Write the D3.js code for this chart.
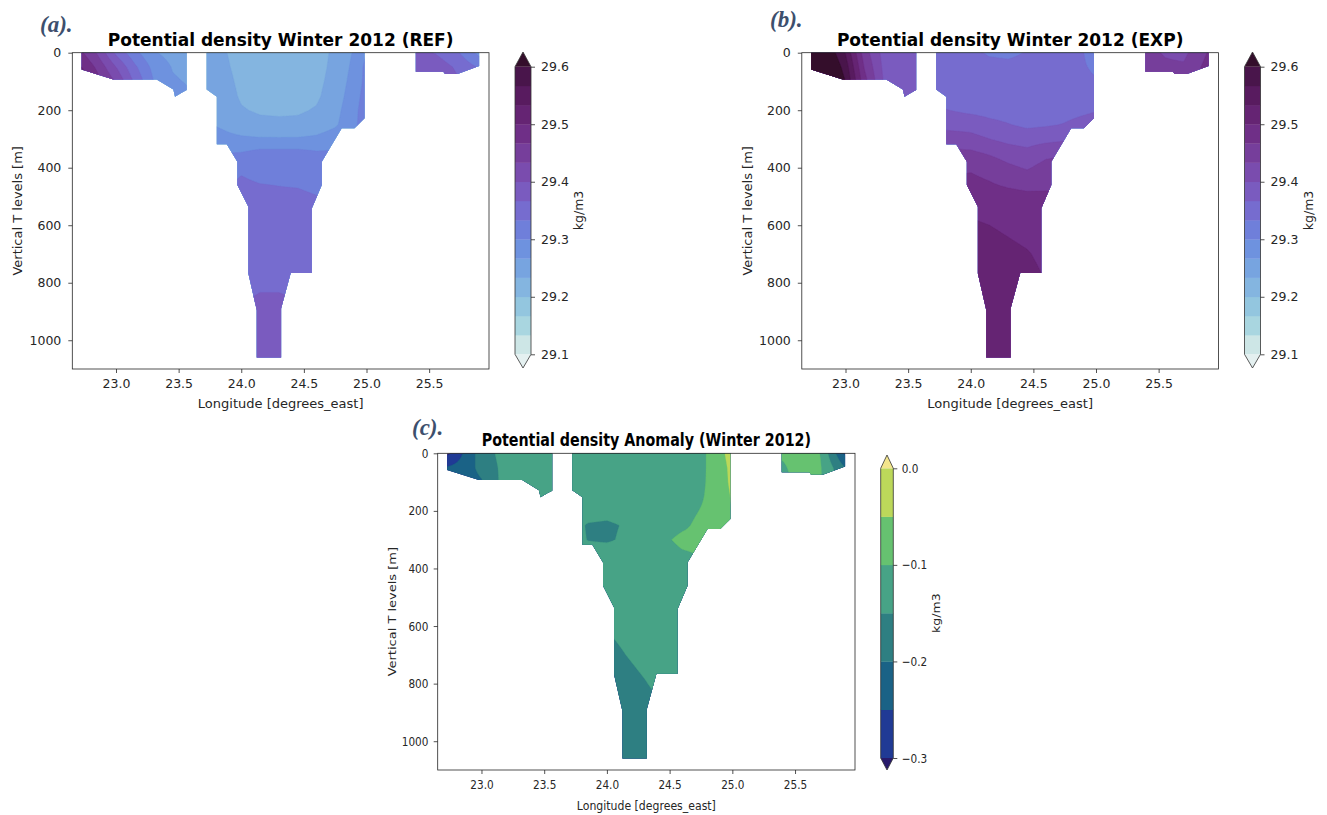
<!DOCTYPE html>
<html>
<head>
<meta charset="utf-8">
<script src="https://cdn.jsdelivr.net/npm/d3@7"></script>
<style>
  body { margin: 0; background: #fff; }
  svg { display: block; }
</style>
</head>
<body>
<svg id="fig" width="1327" height="815"></svg>
<script>
// ---- section grid (longitude nodes x depth levels) ----
const lonNodes = [22.73, 22.85, 23.0, 23.15, 23.3, 23.45, 23.57, 23.72, 23.85, 24.0, 24.15,
                  24.3, 24.45, 24.6, 24.75, 24.9, 25.0, 25.2, 25.4, 25.55, 25.7, 25.9];
const depthNodes = [0, 50, 100, 150, 200, 250, 300, 350, 400, 500, 600, 700, 800, 900, 1000, 1100];

// bottom profile of the section (longitude, depth of the deepest wet level)
const bathyLon = [22.726, 22.726, 22.979, 23.325, 23.458, 23.471, 23.524, 23.564, 23.564,
                  23.724, 23.724, 23.805, 23.805, 23.884, 23.969, 23.969, 24.057, 24.057,
                  24.124, 24.124, 24.318, 24.318, 24.395, 24.563, 24.563, 24.643, 24.643,
                  24.802, 24.904, 24.984, 24.984, 25.394, 25.394, 25.614, 25.627, 25.726,
                  25.899, 25.899];
const bathyDepth = [0, 58, 93, 93, 128, 153, 139, 130, 0,
                    0, 128, 153, 318, 318, 379, 460, 536, 768,
                    896, 1060, 1060, 890, 766, 766, 542, 460, 379,
                    263, 263, 228, 0, 0, 66, 66, 74, 74,
                    46, 0];

// potential density, winter 2012, REF run (kg/m3)
const rhoRef = [
  [29.47, 29.43, 29.36, 29.31, 29.27, 29.255, 29.25, 29.245, 29.237, 29.222, 29.215, 29.215, 29.215, 29.22, 29.24, 29.27, 29.30, 29.33, 29.375, 29.365, 29.345, 29.29],
  [29.50, 29.46, 29.40, 29.34, 29.29, 29.265, 29.26, 29.25, 29.24, 29.224, 29.217, 29.216, 29.217, 29.222, 29.242, 29.275, 29.31, 29.35, 29.39, 29.385, 29.365, 29.33],
  [29.52, 29.48, 29.43, 29.36, 29.30, 29.27, 29.265, 29.255, 29.245, 29.226, 29.219, 29.218, 29.219, 29.225, 29.245, 29.28, 29.31, 29.36, 29.40, 29.39, 29.375, 29.35],
  [29.53, 29.49, 29.44, 29.37, 29.31, 29.28, 29.27, 29.26, 29.25, 29.229, 29.222, 29.221, 29.222, 29.228, 29.25, 29.285, 29.315, 29.36, 29.40, 29.39, 29.38, 29.36],
  [29.53, 29.49, 29.44, 29.37, 29.31, 29.28, 29.27, 29.265, 29.255, 29.236, 29.229, 29.228, 29.229, 29.236, 29.256, 29.29, 29.32, 29.36, 29.40, 29.39, 29.38, 29.36],
  [29.53, 29.49, 29.44, 29.37, 29.31, 29.28, 29.27, 29.27, 29.262, 29.249, 29.242, 29.24, 29.241, 29.247, 29.262, 29.292, 29.322, 29.36, 29.40, 29.39, 29.38, 29.36],
  [29.53, 29.49, 29.44, 29.37, 29.31, 29.28, 29.27, 29.28, 29.276, 29.272, 29.27, 29.27, 29.27, 29.274, 29.285, 29.30, 29.325, 29.36, 29.40, 29.39, 29.38, 29.36],
  [29.53, 29.49, 29.44, 29.37, 29.31, 29.28, 29.27, 29.30, 29.30, 29.302, 29.312, 29.312, 29.312, 29.305, 29.305, 29.31, 29.33, 29.36, 29.40, 29.39, 29.38, 29.36],
  [29.53, 29.49, 29.44, 29.37, 29.31, 29.28, 29.27, 29.32, 29.32, 29.33, 29.325, 29.325, 29.322, 29.318, 29.318, 29.32, 29.33, 29.36, 29.40, 29.39, 29.38, 29.36],
  [29.53, 29.49, 29.44, 29.37, 29.31, 29.28, 29.27, 29.34, 29.34, 29.342, 29.34, 29.338, 29.338, 29.334, 29.33, 29.33, 29.33, 29.36, 29.40, 29.39, 29.38, 29.36],
  [29.53, 29.49, 29.44, 29.37, 29.31, 29.28, 29.27, 29.345, 29.345, 29.345, 29.346, 29.346, 29.345, 29.343, 29.34, 29.34, 29.34, 29.36, 29.40, 29.39, 29.38, 29.36],
  [29.53, 29.49, 29.44, 29.37, 29.31, 29.28, 29.27, 29.352, 29.352, 29.352, 29.354, 29.354, 29.352, 29.35, 29.35, 29.35, 29.35, 29.36, 29.40, 29.39, 29.38, 29.36],
  [29.53, 29.49, 29.44, 29.37, 29.31, 29.28, 29.27, 29.36, 29.36, 29.36, 29.364, 29.364, 29.362, 29.36, 29.36, 29.36, 29.36, 29.36, 29.40, 29.39, 29.38, 29.36],
  [29.53, 29.49, 29.44, 29.37, 29.31, 29.28, 29.27, 29.37, 29.37, 29.37, 29.372, 29.372, 29.37, 29.368, 29.368, 29.368, 29.368, 29.368, 29.40, 29.39, 29.38, 29.36],
  [29.53, 29.49, 29.44, 29.37, 29.31, 29.28, 29.27, 29.38, 29.38, 29.38, 29.38, 29.38, 29.378, 29.376, 29.376, 29.376, 29.376, 29.376, 29.40, 29.39, 29.38, 29.36],
  [29.53, 29.49, 29.44, 29.37, 29.31, 29.28, 29.27, 29.385, 29.385, 29.385, 29.385, 29.385, 29.383, 29.38, 29.38, 29.38, 29.38, 29.38, 29.40, 29.39, 29.38, 29.36]
];

// potential density, winter 2012, EXP run (kg/m3)
const rhoExp = [
  [29.66, 29.63, 29.565, 29.45, 29.39, 29.38, 29.375, 29.345, 29.345, 29.34, 29.33, 29.328, 29.335, 29.34, 29.34, 29.335, 29.29, 29.38, 29.445, 29.43, 29.425, 29.47],
  [29.67, 29.65, 29.585, 29.465, 29.395, 29.383, 29.378, 29.35, 29.35, 29.345, 29.342, 29.34, 29.342, 29.345, 29.345, 29.34, 29.32, 29.39, 29.45, 29.44, 29.438, 29.48],
  [29.68, 29.66, 29.60, 29.48, 29.40, 29.386, 29.38, 29.355, 29.353, 29.348, 29.345, 29.343, 29.345, 29.348, 29.35, 29.348, 29.34, 29.40, 29.455, 29.445, 29.445, 29.485],
  [29.69, 29.67, 29.61, 29.49, 29.405, 29.39, 29.382, 29.36, 29.357, 29.352, 29.349, 29.347, 29.348, 29.35, 29.352, 29.352, 29.35, 29.40, 29.46, 29.45, 29.45, 29.49],
  [29.69, 29.67, 29.61, 29.49, 29.405, 29.39, 29.382, 29.37, 29.366, 29.36, 29.356, 29.353, 29.352, 29.355, 29.358, 29.362, 29.365, 29.40, 29.46, 29.45, 29.45, 29.49],
  [29.69, 29.67, 29.61, 29.49, 29.405, 29.39, 29.382, 29.39, 29.385, 29.385, 29.375, 29.368, 29.36, 29.363, 29.368, 29.375, 29.38, 29.40, 29.46, 29.45, 29.45, 29.49],
  [29.69, 29.67, 29.61, 29.49, 29.405, 29.39, 29.382, 29.42, 29.42, 29.412, 29.40, 29.39, 29.385, 29.39, 29.395, 29.40, 29.40, 29.40, 29.46, 29.45, 29.45, 29.49],
  [29.69, 29.67, 29.61, 29.49, 29.405, 29.39, 29.382, 29.44, 29.44, 29.44, 29.43, 29.418, 29.41, 29.425, 29.43, 29.43, 29.43, 29.43, 29.46, 29.45, 29.45, 29.49],
  [29.69, 29.67, 29.61, 29.49, 29.405, 29.39, 29.382, 29.46, 29.46, 29.463, 29.455, 29.44, 29.43, 29.445, 29.45, 29.45, 29.45, 29.45, 29.46, 29.45, 29.45, 29.49],
  [29.69, 29.67, 29.61, 29.49, 29.405, 29.39, 29.382, 29.485, 29.485, 29.485, 29.48, 29.478, 29.475, 29.472, 29.47, 29.47, 29.47, 29.47, 29.46, 29.45, 29.45, 29.49],
  [29.69, 29.67, 29.61, 29.49, 29.405, 29.39, 29.382, 29.505, 29.505, 29.505, 29.50, 29.495, 29.49, 29.485, 29.48, 29.48, 29.48, 29.48, 29.46, 29.45, 29.45, 29.49],
  [29.69, 29.67, 29.61, 29.49, 29.405, 29.39, 29.382, 29.515, 29.515, 29.515, 29.512, 29.507, 29.502, 29.493, 29.49, 29.49, 29.49, 29.49, 29.46, 29.45, 29.45, 29.49],
  [29.69, 29.67, 29.61, 29.49, 29.405, 29.39, 29.382, 29.52, 29.52, 29.52, 29.518, 29.515, 29.51, 29.50, 29.50, 29.50, 29.50, 29.50, 29.46, 29.45, 29.45, 29.49],
  [29.69, 29.67, 29.61, 29.49, 29.405, 29.39, 29.382, 29.525, 29.525, 29.525, 29.522, 29.52, 29.515, 29.51, 29.51, 29.51, 29.51, 29.51, 29.46, 29.45, 29.45, 29.49],
  [29.69, 29.67, 29.61, 29.49, 29.405, 29.39, 29.382, 29.53, 29.53, 29.53, 29.528, 29.525, 29.52, 29.515, 29.515, 29.515, 29.515, 29.515, 29.46, 29.45, 29.45, 29.49],
  [29.69, 29.67, 29.61, 29.49, 29.405, 29.39, 29.382, 29.535, 29.535, 29.535, 29.532, 29.53, 29.525, 29.52, 29.52, 29.52, 29.52, 29.52, 29.46, 29.45, 29.45, 29.49]
];

// potential density anomaly, winter 2012 (kg/m3)
const rhoAnom = [
  [-0.31, -0.25, -0.175, -0.14, -0.125, -0.125, -0.125, -0.12, -0.12, -0.12, -0.12, -0.12, -0.12, -0.12, -0.115, -0.06, -0.035, -0.07, -0.095, -0.085, -0.10, -0.26],
  [-0.245, -0.23, -0.185, -0.145, -0.13, -0.125, -0.125, -0.12, -0.12, -0.12, -0.12, -0.12, -0.12, -0.12, -0.113, -0.065, -0.04, -0.07, -0.105, -0.085, -0.095, -0.20],
  [-0.235, -0.225, -0.205, -0.145, -0.135, -0.13, -0.128, -0.12, -0.12, -0.12, -0.12, -0.12, -0.12, -0.12, -0.11, -0.07, -0.04, -0.07, -0.11, -0.09, -0.095, -0.18],
  [-0.235, -0.225, -0.205, -0.15, -0.135, -0.13, -0.128, -0.12, -0.12, -0.12, -0.12, -0.12, -0.12, -0.118, -0.105, -0.075, -0.045, -0.07, -0.11, -0.09, -0.095, -0.18],
  [-0.235, -0.225, -0.205, -0.15, -0.135, -0.13, -0.128, -0.12, -0.125, -0.13, -0.12, -0.12, -0.12, -0.115, -0.098, -0.08, -0.048, -0.07, -0.11, -0.09, -0.095, -0.18],
  [-0.235, -0.225, -0.205, -0.15, -0.135, -0.13, -0.128, -0.13, -0.155, -0.16, -0.145, -0.125, -0.12, -0.108, -0.09, -0.085, -0.058, -0.07, -0.11, -0.09, -0.095, -0.18],
  [-0.235, -0.225, -0.205, -0.15, -0.135, -0.13, -0.128, -0.13, -0.152, -0.158, -0.14, -0.125, -0.108, -0.09, -0.088, -0.09, -0.07, -0.07, -0.11, -0.09, -0.095, -0.18],
  [-0.235, -0.225, -0.205, -0.15, -0.135, -0.13, -0.128, -0.12, -0.125, -0.12, -0.12, -0.12, -0.118, -0.105, -0.098, -0.10, -0.09, -0.09, -0.11, -0.09, -0.095, -0.18],
  [-0.235, -0.225, -0.205, -0.15, -0.135, -0.13, -0.128, -0.12, -0.12, -0.12, -0.12, -0.12, -0.12, -0.115, -0.11, -0.11, -0.10, -0.10, -0.11, -0.09, -0.095, -0.18],
  [-0.235, -0.225, -0.205, -0.15, -0.135, -0.13, -0.128, -0.12, -0.12, -0.12, -0.12, -0.12, -0.12, -0.12, -0.12, -0.12, -0.12, -0.12, -0.11, -0.09, -0.095, -0.18],
  [-0.235, -0.225, -0.205, -0.15, -0.135, -0.13, -0.128, -0.12, -0.14, -0.148, -0.14, -0.13, -0.125, -0.12, -0.12, -0.12, -0.12, -0.12, -0.11, -0.09, -0.095, -0.18],
  [-0.235, -0.225, -0.205, -0.15, -0.135, -0.13, -0.128, -0.13, -0.15, -0.16, -0.15, -0.14, -0.135, -0.125, -0.12, -0.12, -0.12, -0.12, -0.11, -0.09, -0.095, -0.18],
  [-0.235, -0.225, -0.205, -0.15, -0.135, -0.13, -0.128, -0.14, -0.165, -0.17, -0.162, -0.152, -0.14, -0.13, -0.12, -0.12, -0.12, -0.12, -0.11, -0.09, -0.095, -0.18],
  [-0.235, -0.225, -0.205, -0.15, -0.135, -0.13, -0.128, -0.15, -0.17, -0.175, -0.17, -0.165, -0.155, -0.14, -0.13, -0.13, -0.13, -0.13, -0.11, -0.09, -0.095, -0.18],
  [-0.235, -0.225, -0.205, -0.15, -0.135, -0.13, -0.128, -0.16, -0.175, -0.175, -0.175, -0.175, -0.165, -0.15, -0.14, -0.14, -0.14, -0.14, -0.11, -0.09, -0.095, -0.18],
  [-0.235, -0.225, -0.205, -0.15, -0.135, -0.13, -0.128, -0.16, -0.175, -0.175, -0.175, -0.175, -0.165, -0.15, -0.14, -0.14, -0.14, -0.14, -0.11, -0.09, -0.095, -0.18]
];

// contour levels and colorbar ticks
const rhoLevels = [29.1, 29.1333, 29.1667, 29.2, 29.2333, 29.2667, 29.3, 29.3333,
                   29.3667, 29.4, 29.4333, 29.4667, 29.5, 29.5333, 29.5667, 29.6];
const rhoTicks = [29.1, 29.2, 29.3, 29.4, 29.5, 29.6];
const anomLevels = [-0.3, -0.25, -0.2, -0.15, -0.1, -0.05, 0.0];
const anomTicks = [-0.3, -0.2, -0.1, 0.0];
const lonTicks = [23.0, 23.5, 24.0, 24.5, 25.0, 25.5];
const depthTicks = [0, 200, 400, 600, 800, 1000];
const lonDomain = [22.651, 25.978];
const depthDomain = [0, 1100];

// fill colours: "dense" style ramp for density, "haline" style ramp for the anomaly
const denseUnder = "#e4f0f0";
const denseBands = ["#cde6e6", "#a9d6e0", "#93c6df", "#84b5e0", "#77a4e0", "#6e92df", "#6f7fda",
                    "#766ccf", "#7a5bbf", "#7a4cae", "#763e9b", "#6f2f87", "#652473", "#581b5f",
                    "#49154b", "#340e2b"];
const halineUnder = "#281a6b";
const halineBands = ["#203a95", "#1a6286", "#2e7f82", "#47a386", "#66c270", "#bcd85a", "#f3e58c"];

const SANS = "DejaVu Sans, sans-serif";
const INK = "#262626";

const svg = d3.select("#fig");
const defs = svg.append("defs");

function makeSampler(grid) {
  const nI = lonNodes.length, nJ = depthNodes.length;
  return (lon, dep) => {
    const i = Math.max(0, Math.min(nI - 2, d3.bisectRight(lonNodes, lon) - 1));
    const j = Math.max(0, Math.min(nJ - 2, d3.bisectRight(depthNodes, dep) - 1));
    const tx = Math.max(0, Math.min(1, (lon - lonNodes[i]) / (lonNodes[i + 1] - lonNodes[i])));
    const ty = Math.max(0, Math.min(1, (dep - depthNodes[j]) / (depthNodes[j + 1] - depthNodes[j])));
    const a = grid[j][i], b = grid[j][i + 1], c = grid[j + 1][i], d = grid[j + 1][i + 1];
    return (a * (1 - tx) + b * tx) * (1 - ty) + (c * (1 - tx) + d * tx) * ty;
  };
}

function styleTicks(axisG, sq) {
  axisG.select(".domain").remove();
  axisG.selectAll(".tick line").attr("stroke", INK).attr("stroke-width", 0.8);
  const t = axisG.selectAll(".tick text").attr("font-size", 12.5)
    .attr("font-family", SANS).attr("fill", INK);
  if (sq !== 1) t.attr("transform", `scale(${sq},1)`);
}

function drawPanel(p) {
  const x = d3.scaleLinear().domain(lonDomain).range([p.left, p.right]);
  const y = d3.scaleLinear().domain(depthDomain).range([p.top, p.bottom]);
  const g = svg.append("g");

  // wet part of the section
  const clipId = "wet-" + p.key;
  const outline = bathyLon.map((l, i) => [x(l), y(bathyDepth[i])]);
  defs.append("clipPath").attr("id", clipId)
    .append("path").attr("d", d3.line()(outline) + "Z");

  // filled contours on a pixel grid
  const nx = Math.round(p.right - p.left), ny = Math.round(p.bottom - p.top);
  const sx = (p.right - p.left) / nx, sy = (p.bottom - p.top) / ny;
  const sample = makeSampler(p.grid);
  const values = new Float64Array(nx * ny);
  for (let j = 0; j < ny; j++) {
    const dep = y.invert(p.top + (j + 0.5) * sy);
    for (let i = 0; i < nx; i++) {
      values[j * nx + i] = sample(x.invert(p.left + (i + 0.5) * sx), dep);
    }
  }
  const proj = d3.geoTransform({
    point(px, py) { this.stream.point(p.left + px * sx, p.top + py * sy); }
  });
  const path = d3.geoPath(proj);
  const gen = d3.contours().size([nx, ny]);
  const field = g.append("g").attr("clip-path", `url(#${clipId})`);
  field.append("rect").attr("x", p.left).attr("y", p.top)
    .attr("width", p.right - p.left).attr("height", p.bottom - p.top).attr("fill", p.under);
  p.levels.forEach((lv, k) => {
    field.append("path").attr("d", path(gen.contour(values, lv)))
      .attr("fill", p.bands[k]).attr("stroke", p.bands[k]).attr("stroke-width", 0.3);
  });

  // axes
  const xAxis = d3.axisBottom(x).tickValues(lonTicks).tickFormat(d3.format(".1f"))
    .tickSize(4).tickPadding(6).tickSizeOuter(0);
  const yAxis = d3.axisLeft(y).tickValues(depthTicks).tickFormat(d3.format("d"))
    .tickSize(4).tickPadding(7).tickSizeOuter(0);
  g.append("g").attr("transform", `translate(0,${p.bottom})`).call(xAxis).call(styleTicks, p.sq);
  g.append("g").attr("transform", `translate(${p.left},0)`).call(yAxis).call(styleTicks, p.sq);

  g.append("rect").attr("x", p.left).attr("y", p.top)
    .attr("width", p.right - p.left).attr("height", p.bottom - p.top)
    .attr("fill", "none").attr("stroke", INK).attr("stroke-width", 0.8);

  const cx = (p.left + p.right) / 2, cy = (p.top + p.bottom) / 2;
  g.append("text").attr("transform", `translate(${cx},${p.titleY}) scale(${p.sq},1)`)
    .attr("text-anchor", "middle").attr("font-family", SANS).attr("font-size", 17)
    .attr("font-weight", "bold").attr("fill", "#000").text(p.title);
  g.append("text").attr("transform", `translate(${cx},${p.xLabelY}) scale(${p.sq},1)`)
    .attr("text-anchor", "middle").attr("font-family", SANS).attr("font-size", 13)
    .attr("fill", INK).text("Longitude [degrees_east]");
  g.append("text").attr("transform", `translate(${p.yLabelX},${cy}) rotate(-90) scale(1,${p.sq})`)
    .attr("text-anchor", "middle").attr("font-family", SANS).attr("font-size", 13)
    .attr("fill", INK).text("Vertical T levels [m]");

  // panel letter
  g.append("text").attr("x", p.tagX).attr("y", p.tagY)
    .attr("font-family", "Liberation Serif, DejaVu Serif, serif").attr("font-style", "italic")
    .attr("font-weight", "bold").attr("font-size", 23).attr("fill", "#3d4f6d").text(p.tag);

  // colorbar
  const cb = p.cb;
  const c = d3.scaleLinear().domain([p.levels[0], p.levels[p.levels.length - 1]]).range([cb.bottom, cb.top]);
  const cg = g.append("g");
  for (let k = 0; k < p.levels.length - 1; k++) {
    cg.append("rect").attr("x", cb.left).attr("width", cb.right - cb.left)
      .attr("y", c(p.levels[k + 1])).attr("height", c(p.levels[k]) - c(p.levels[k + 1]) + 0.3)
      .attr("fill", p.bands[k]);
  }
  const mid = (cb.left + cb.right) / 2;
  cg.append("path").attr("d", `M${cb.left},${cb.top}L${mid},${cb.tipTop}L${cb.right},${cb.top}Z`)
    .attr("fill", p.bands[p.bands.length - 1]);
  cg.append("path").attr("d", `M${cb.left},${cb.bottom}L${mid},${cb.tipBottom}L${cb.right},${cb.bottom}Z`)
    .attr("fill", p.under);
  cg.append("path")
    .attr("d", `M${cb.left},${cb.bottom}L${cb.left},${cb.top}L${mid},${cb.tipTop}L${cb.right},${cb.top}` +
               `L${cb.right},${cb.bottom}L${mid},${cb.tipBottom}Z`)
    .attr("fill", "none").attr("stroke", "#333").attr("stroke-width", 0.8);
  const cAxis = d3.axisRight(c).tickValues(p.ticks).tickSize(4).tickPadding(6)
    .tickFormat(d => d3.format(".1f")(d).replace("-", "\u2212"));
  cg.append("g").attr("transform", `translate(${cb.right},0)`).call(cAxis).call(styleTicks, p.sq);
  cg.append("text")
    .attr("transform", `translate(${cb.labelX},${(cb.top + cb.bottom) / 2}) rotate(-90) scale(1,${p.sq})`)
    .attr("text-anchor", "middle").attr("font-family", SANS).attr("font-size", 12.5)
    .attr("fill", INK).text("kg/m3");
}

const panels = [
  { key: "a", grid: rhoRef, levels: rhoLevels, ticks: rhoTicks, bands: denseBands, under: denseUnder,
    title: "Potential density Winter 2012 (REF)", tag: "(a).", sq: 1,
    left: 72.3, right: 489, top: 52.7, bottom: 369, titleY: 46, xLabelY: 408, yLabelX: 22,
    tagX: 40, tagY: 32,
    cb: { left: 515, right: 531, top: 66.7, bottom: 354.3, tipTop: 52, tipBottom: 368, labelX: 583 } },
  { key: "b", grid: rhoExp, levels: rhoLevels, ticks: rhoTicks, bands: denseBands, under: denseUnder,
    title: "Potential density Winter 2012 (EXP)", tag: "(b).", sq: 1,
    left: 801.8, right: 1218.5, top: 52.7, bottom: 369, titleY: 46, xLabelY: 408, yLabelX: 751.5,
    tagX: 770, tagY: 27,
    cb: { left: 1244.5, right: 1260.5, top: 66.7, bottom: 354.3, tipTop: 52, tipBottom: 368, labelX: 1312.5 } },
  { key: "c", grid: rhoAnom, levels: anomLevels, ticks: anomTicks, bands: halineBands, under: halineUnder,
    title: "Potential density Anomaly (Winter 2012)", tag: "(c).", sq: 0.84,
    left: 437.7, right: 855, top: 453.3, bottom: 770, titleY: 446, xLabelY: 810, yLabelX: 396,
    tagX: 412, tagY: 435,
    cb: { left: 880.7, right: 893.3, top: 468.3, bottom: 758, tipTop: 455, tipBottom: 770, labelX: 940 } }
];

panels.forEach(drawPanel);
</script>
</body>
</html>
